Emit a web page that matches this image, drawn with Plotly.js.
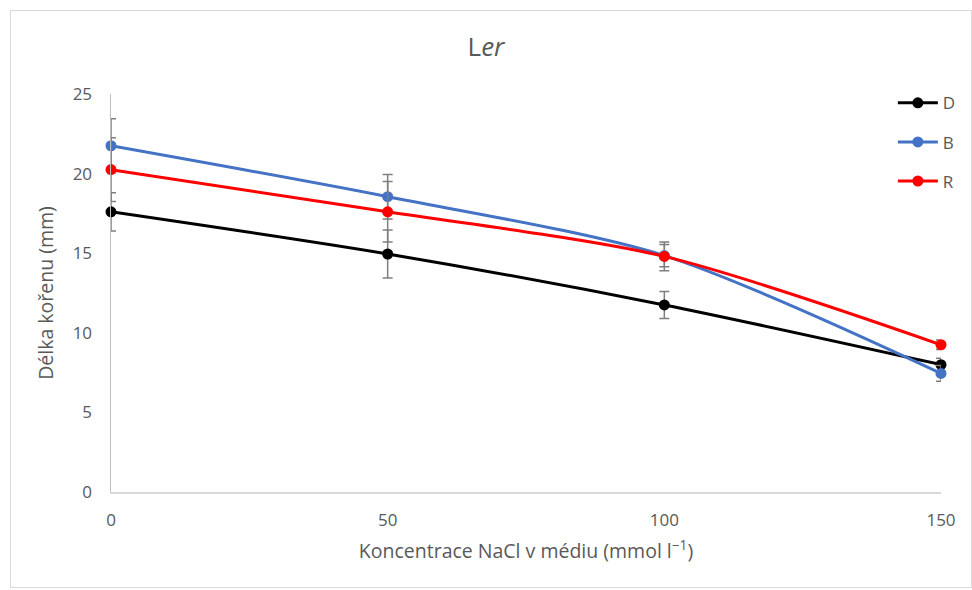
<!DOCTYPE html>
<html>
<head>
<meta charset="utf-8">
<script src="https://cdn.plot.ly/plotly-3.0.1.min.js"></script>
<style>
body{margin:0;padding:0;background:#fff;}
#wrap{position:relative;width:972px;height:590px;}
#chart{position:absolute;left:0;top:0;width:972px;height:590px;}
#frame{position:absolute;left:10px;top:10px;width:962px;height:578px;border:1px solid #d9d9d9;box-sizing:border-box;pointer-events:none;}
</style>
</head>
<body>
<div id="wrap"><div id="chart"></div><div id="frame"></div></div>
<script>
const concentrations = [0, 50, 100, 150];
const seriesNames = ['D', 'B', 'R'];
const valuesD = [17.6, 14.95, 11.75, 8.0];
const valuesB = [21.75, 18.55, 14.85, 7.45];
const valuesR = [20.25, 17.6, 14.8, 9.25];
const errD = [1.2, 1.5, 0.85, 0.4];
const errB = [1.7, 1.4, 0.7, 0.5];
const errR = [2.0, 1.9, 0.9, 0.3];
const xTicks = [0, 50, 100, 150];
const yTicks = [0, 5, 10, 15, 20, 25];

const colors = ['#000000', '#4472C4', '#FF0000'];
const allValues = [valuesD, valuesB, valuesR];
const allErr = [errD, errB, errR];

const traces = seriesNames.map((name, i) => ({
  x: concentrations,
  y: allValues[i],
  name: name,
  legendgroup: name,
  type: 'scatter',
  mode: 'lines+markers',
  line: {color: colors[i], width: 3, shape: 'spline', smoothing: 0.8},
  marker: {color: colors[i], size: 11},
  cliponaxis: false,
  error_y: {type: 'data', array: allErr[i], visible: true, color: '#7f7f7f', thickness: 1.5, width: 5}
}));

const fontFam = '"Open Sans", "Liberation Sans", sans-serif';
const layout = {
  width: 972, height: 590,
  margin: {l: 111, r: 31, t: 94, b: 98, autoexpand: false},
  paper_bgcolor: '#ffffff', plot_bgcolor: '#ffffff',
  font: {family: fontFam, color: '#595959', size: 17},
  title: {text: 'L<i>er</i>', x: 0.5, xanchor: 'center', y: 0.92, yanchor: 'middle', font: {size: 26, color: '#595959', family: fontFam}},
  xaxis: {
    range: [0, 150], tickvals: xTicks, ticktext: xTicks.map(String),
    showgrid: false, zeroline: false, showline: true, linecolor: '#d9d9d9', linewidth: 1.5,
    ticks: '', ticklabelstandoff: 12, tickfont: {size: 17, color: '#595959'},
    automargin: false,
    title: {text: 'Koncentrace NaCl v médiu (mmol l<sup>−1</sup>)', font: {size: 19.5, color: '#595959'}, standoff: 14}
  },
  yaxis: {
    range: [0, 25], tickvals: yTicks, ticktext: yTicks.map(String),
    showgrid: false, zeroline: false, showline: true, linecolor: '#bfbfbf', linewidth: 1.5,
    ticks: '', ticklabelstandoff: 14, tickfont: {size: 17, color: '#595959'},
    automargin: false,
    title: {text: 'Délka kořenu (mm)', font: {size: 19.5, color: '#595959'}, standoff: 14}
  },
  legend: {x: 0.942, xanchor: 'left', y: 1.022, yanchor: 'top', font: {size: 17, color: '#595959'},
    tracegroupgap: 14, bgcolor: 'rgba(0,0,0,0)', itemwidth: 40},
  showlegend: true
};
Plotly.newPlot('chart', traces, layout, {displayModeBar: false, staticPlot: true});
</script>
</body>
</html>
